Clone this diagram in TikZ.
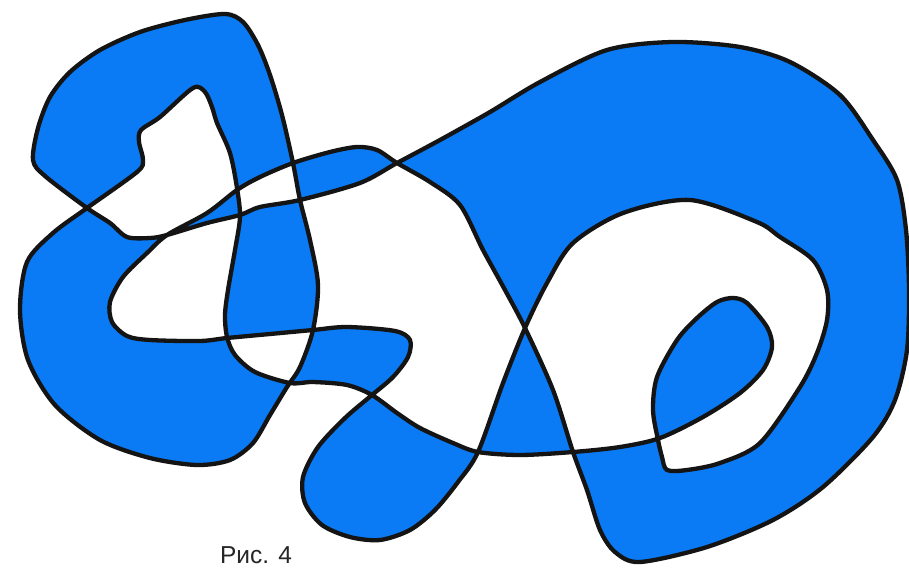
\documentclass[tikz,border=0pt]{standalone}
\usepackage{fontspec}
\setmainfont{Liberation Sans}
\definecolor{knotblue}{RGB}{10,122,245}
\definecolor{knotline}{RGB}{20,20,20}
\begin{document}
\begin{tikzpicture}[x=1pt,y=-1pt,
  knot/.style={line width=4.3pt, draw=knotline, fill=knotblue, even odd rule, line join=round},
  caption/.style={font=\fontsize{24.5}{27}\selectfont, text=black!85, inner sep=0pt, anchor=base}]
\useasboundingbox (0,0) rectangle (909,567);
\fill[white] (0,0) rectangle (909,567);
\draw[knot] plot[smooth cycle, tension=0.5] coordinates {
 (33,160) (38,128) (50,97) (70,72) (100,50) (140,32) (185,20) (225,14) (243,22)
 (258,45) (270,75) (282,115) (293,163) (300,200) (310,240) (318,285) (313,330)
 (300,367) (287,387) (270,415) (253,443) (230,460) (197,465) (150,458) (100,440)
 (55,405) (28,360) (20,310) (27,262) (53,233) (87,208) (137,172) (143,160) (139,142)
 (141,130) (160,117) (193,88) (205,92) (212,107) (217,123) (230,153) (237,188)
 (240,217) (235,250) (228,290) (225,315) (227,337) (235,355) (255,372) (290,383)
 (313,382) (347,385) (372,395) (397,413) (420,428) (453,443) (478,452) (520,455)
 (573,452) (620,447) (660,438) (703,417) (740,393) (763,370) (772,347) (767,327)
 (747,303) (733,298) (717,302) (697,318) (677,340) (657,377) (653,410) (658,440)
 (662,457) (667,470) (687,470) (720,463) (760,443) (800,387) (817,353) (827,320)
 (827,290) (813,260) (780,237) (757,222) (690,200) (623,213) (573,243) (547,283)
 (525,328) (503,383) (478,452) (458,482) (435,510) (410,530) (380,540) (350,537)
 (322,525) (305,503) (303,477) (318,447) (345,418) (372,395) (393,377) (408,357)
 (410,340) (395,331) (347,327) (313,330) (270,334) (227,338) (200,341) (150,340)
 (127,336) (112,322) (110,302) (123,277) (147,253) (167,235) (207,213) (237,190)
 (260,177) (293,163) (330,152) (357,147) (377,150) (397,163) (430,182) (460,205)
 (483,250) (505,290) (525,328) (553,390) (573,452) (587,490) (600,530) (615,552)
 (640,562) (707,547) (773,520) (823,487) (873,437) (895,400) (907,350) (909,290)
 (906,230) (897,180) (873,140) (840,95) (790,62) (740,47) (673,42) (607,50)
 (540,82) (490,112) (440,140) (397,163) (360,183) (300,200) (260,207) (240,215)
 (207,223) (167,235) (150,238) (127,237) (110,223) (87,208) (45,176)
};
\node[caption] (cap) at (256,563) {Рис. 4};
\end{tikzpicture}
\end{document}
